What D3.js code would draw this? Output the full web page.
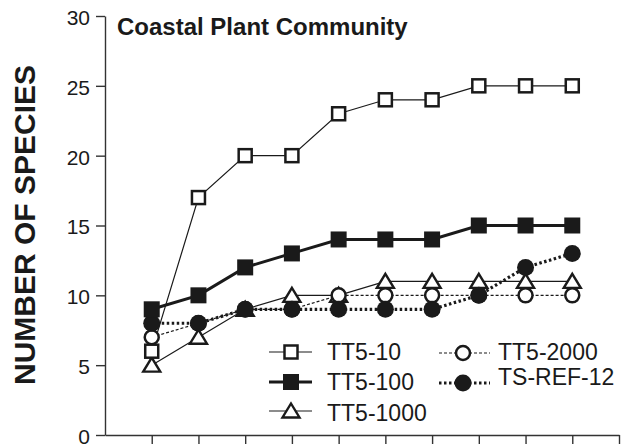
<!DOCTYPE html>
<html>
<head>
<meta charset="utf-8">
<script src="https://cdn.jsdelivr.net/npm/d3@7"></script>
<style>
  body { margin: 0; background: #fff; }
  svg { display: block; font-family: "Liberation Sans", Arial, Helvetica, sans-serif; }
</style>
</head>
<body>
<svg id="chart"></svg>
<script>
const samples = [1, 2, 3, 4, 5, 6, 7, 8, 9, 10]
const xTicks = [1, 2, 3, 4, 5, 6, 7, 8, 9, 10, 11]
const yTicks = [0, 5, 10, 15, 20, 25, 30]

const tt5_10 = [6, 17, 20, 20, 23, 24, 24, 25, 25, 25]
const tt5_100 = [9, 10, 12, 13, 14, 14, 14, 15, 15, 15]
const tt5_1000 = [5, 7, 9, 10, 10, 11, 11, 11, 11, 11]
const tt5_2000 = [7, 8, 9, 9, 10, 10, 10, 10, 10, 10]
const tsRef12 = [8, 8, 9, 9, 9, 9, 9, 10, 12, 13]

const width = 626, height = 444
const ink = "#1a1a1a"

const svg = d3.select("#chart")
    .attr("width", width)
    .attr("height", height)
    ;

const x = d3.scaleLinear().domain([0, 11]).range([105, 619])
const y = d3.scaleLinear().domain([0, 30]).range([435, 16])

// series, drawn bottom to top
const series = [
    { name: "TT5-1000", values: tt5_1000, marker: "triangle", width: 1.2, dash: null },
    { name: "TT5-2000", values: tt5_2000, marker: "circleOpen", width: 1.2, dash: "3,2" },
    { name: "TS-REF-12", values: tsRef12, marker: "circleFilled", width: 3.2, dash: "2.5,2.5" },
    { name: "TT5-100", values: tt5_100, marker: "squareFilled", width: 3, dash: null },
    { name: "TT5-10", values: tt5_10, marker: "squareOpen", width: 1.2, dash: null }
]

function drawMarker(g, type) {
    if (type === "squareOpen") {
        g.append("rect").attr("x", -6.5).attr("y", -6.5).attr("width", 13).attr("height", 13)
            .attr("fill", "#fff").attr("stroke", ink).attr("stroke-width", 2.5);
    } else if (type === "squareFilled") {
        g.append("rect").attr("x", -8).attr("y", -8).attr("width", 16).attr("height", 16)
            .attr("fill", ink);
    } else if (type === "triangle") {
        g.append("path").attr("d", "M0,-7.5L8.5,6.5L-8.5,6.5Z")
            .attr("fill", "#fff").attr("stroke", ink).attr("stroke-width", 2.4);
    } else if (type === "circleOpen") {
        g.append("circle").attr("r", 7)
            .attr("fill", "#fff").attr("stroke", ink).attr("stroke-width", 2.5);
    } else if (type === "circleFilled") {
        g.append("circle").attr("r", 8.5).attr("fill", ink);
    }
}

// axes
const yAxis = svg.append("g")
    .attr("transform", "translate(" + x(0) + ",0)")
    .call(d3.axisLeft(y).tickValues(yTicks).tickSize(9).tickSizeOuter(0).tickPadding(6))
    ;
yAxis.selectAll("text").attr("font-size", 21).attr("fill", ink).attr("dy", "0.4em")
    .attr("font-family", "Liberation Sans, Arial, sans-serif");
yAxis.selectAll("line, path").attr("stroke", "#333").attr("stroke-width", 1.4);

const xAxis = svg.append("g")
    .attr("transform", "translate(0," + y(0) + ")")
    .call(d3.axisBottom(x).tickValues(xTicks).tickSize(10).tickSizeOuter(0).tickFormat(""))
    ;
xAxis.selectAll("line, path").attr("stroke", "#333").attr("stroke-width", 1.4);

// lines and markers
const line = d3.line()
    .x((d, i) => x(samples[i]))
    .y(d => y(d))
    ;

series.forEach(s => {
    svg.append("path")
        .datum(s.values)
        .attr("d", line)
        .attr("fill", "none")
        .attr("stroke", ink)
        .attr("stroke-width", s.width)
        .attr("stroke-dasharray", s.dash)
        ;
});

series.forEach(s => {
    s.values.forEach((v, i) => {
        const g = svg.append("g").attr("transform", "translate(" + x(samples[i]) + "," + y(v) + ")");
        drawMarker(g, s.marker);
    });
});

// title
svg.append("text")
    .attr("x", 117)
    .attr("y", 35)
    .attr("font-size", 24)
    .attr("font-weight", "bold")
    .attr("fill", ink)
    .text("Coastal Plant Community")
    ;

// y label
svg.append("text")
    .attr("transform", "translate(35,225) rotate(-90)")
    .attr("text-anchor", "middle")
    .attr("font-size", 30)
    .attr("font-weight", "bold")
    .attr("fill", ink)
    .text("NUMBER OF SPECIES")
    ;

// legend
const legendItems = [
    { key: "TT5-10", lx: 269, rx: 312, mx: 291, tx: 327, my: 352, ty: 360 },
    { key: "TT5-100", lx: 269, rx: 312, mx: 291, tx: 327, my: 382, ty: 390 },
    { key: "TT5-1000", lx: 269, rx: 312, mx: 291, tx: 327, my: 411, ty: 421 },
    { key: "TT5-2000", lx: 439, rx: 490, mx: 463, tx: 498, my: 353, ty: 360 },
    { key: "TS-REF-12", lx: 439, rx: 490, mx: 463, tx: 498, my: 383, ty: 385 }
]

legendItems.forEach(item => {
    const s = series.find(d => d.name === item.key);
    svg.append("line")
        .attr("x1", item.lx).attr("x2", item.rx)
        .attr("y1", item.my).attr("y2", item.my)
        .attr("stroke", ink)
        .attr("stroke-width", s.width)
        .attr("stroke-dasharray", s.dash)
        ;
    const g = svg.append("g").attr("transform", "translate(" + item.mx + "," + item.my + ")");
    drawMarker(g, s.marker);
    svg.append("text")
        .attr("x", item.tx)
        .attr("y", item.ty)
        .attr("font-size", 23)
        .attr("fill", ink)
        .text(item.key)
        ;
});
</script>
</body>
</html>
